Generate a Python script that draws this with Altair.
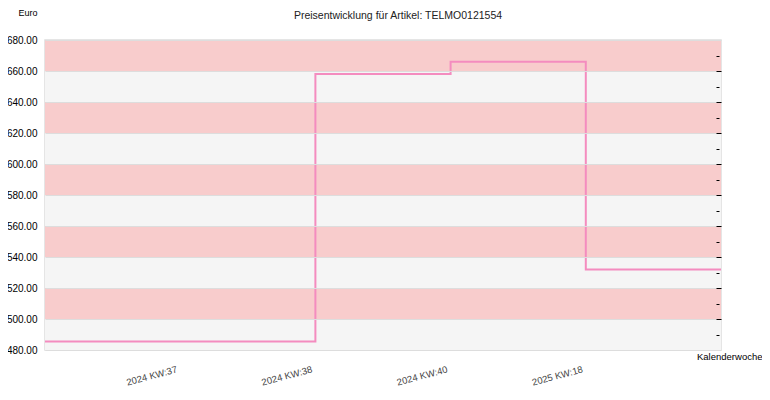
import altair as alt
import pandas as pd

# ---- data ----
weeks = ["2024 KW:37", "2024 KW:38", "2024 KW:40", "2025 KW:18"]
prices = [485.5, 658.0, 666.0, 532.0]

band_low = [480, 500, 520, 540, 560, 580, 600, 620, 640, 660]
band_kind = ["grau", "rosa", "grau", "rosa", "grau", "rosa", "grau", "rosa", "grau", "rosa"]

y_labels = [480, 500, 520, 540, 560, 580, 600, 620, 640, 660, 680]
y_minor = [490, 500, 510, 520, 530, 540, 550, 560, 570, 580, 590, 600, 610, 620,
           630, 640, 650, 660, 670]

title_text = "Preisentwicklung für Artikel: TELMO0121554"
FONT = "Liberation Sans"
W, H = 676, 310

# line extends from the left edge to the right edge of the plot
n = len(weeks)
pos = [0] + list(range(1, n + 1)) + [n + 1]
vals = [prices[0]] + prices + [prices[-1]]
line_df = pd.DataFrame({"pos": pos, "preis": vals})

band_df = pd.DataFrame({
    "lo": band_low,
    "hi": [b + 20 for b in band_low],
    "kind": band_kind,
})

label_arr = "[" + ",".join(["''"] + ["'" + w + "'" for w in weeks] + ["''"]) + "]"

yscale = alt.Scale(domain=[480, 680], nice=False, zero=False)

bands = alt.Chart(band_df).mark_rect().encode(
    y=alt.Y("lo:Q", scale=yscale,
            axis=alt.Axis(values=y_labels, format=".2f", orient="left",
                          grid=True, gridColor="#dddddd", gridWidth=1,
                          ticks=False, tickSize=0, domain=False,
                          labelFont=FONT, labelFontSize=10, labelColor="#000000",
                          labelPadding=8, zindex=1,
                          title="Euro", titleAngle=0, titleAlign="right",
                          titleBaseline="middle", titleX=-8, titleY=-28,
                          titleFont=FONT, titleFontSize=9, titleFontWeight="normal",
                          titleColor="#000000")),
    y2="hi:Q",
    color=alt.Color("kind:N",
                    scale=alt.Scale(domain=["grau", "rosa"], range=["#f5f5f5", "#f8cccc"]),
                    legend=None),
)

line = alt.Chart(line_df).mark_line(
    interpolate="step-after", color="#f48cbf", strokeWidth=2
).encode(
    x=alt.X("pos:Q", scale=alt.Scale(domain=[0, n + 1], nice=False, zero=False),
            axis=alt.Axis(values=list(range(1, n + 1)),
                          labelExpr=label_arr + "[datum.value]",
                          grid=False, ticks=False, tickSize=0, domain=False,
                          labelAngle=345, labelAlign="right", labelBaseline="top",
                          labelPadding=14, labelOffset=-5, labelFont=FONT,
                          labelFontSize=9.5, labelColor="#444444",
                          title="Kalenderwoche", titleAlign="right",
                          titleBaseline="middle", titleX=W + 41, titleY=6,
                          titleFont=FONT, titleFontSize=9.5, titleFontWeight="normal",
                          titleColor="#000000")),
    y=alt.Y("preis:Q", scale=yscale,
            axis=alt.Axis(values=y_minor, orient="right", offset=-5,
                          labels=False, domain=False, grid=False, title=None,
                          tickColor="#000000", tickWidth=1, zindex=2,
                          tickSize={"condition": {"test": "datum.value % 20 === 0", "value": 5},
                                    "value": 3})),
)

chart = alt.layer(bands, line).resolve_axis(y="independent").properties(
    width=W, height=H,
    autosize=alt.AutoSizeParams(type="none"),
    padding={"left": 37, "top": 32, "right": 41, "bottom": 38},
    title=alt.TitleParams(title_text, font=FONT, fontSize=10.5, fontWeight="normal",
                          color="#222222", anchor="middle", frame="group",
                          dx=15, dy=13, offset=-8, baseline="alphabetic"),
).configure_view(stroke="#dddddd", strokeWidth=1.5)

chart.save("out.html", embed_options={"renderer": "svg", "actions": False})
